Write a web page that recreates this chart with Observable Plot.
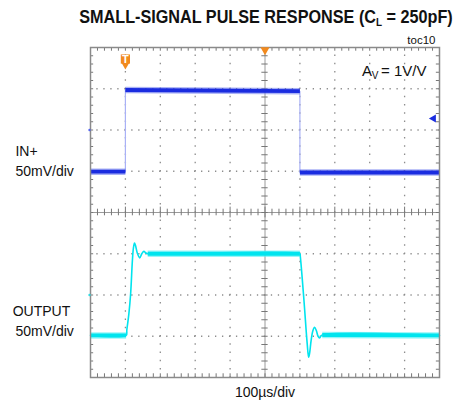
<!DOCTYPE html>
<html><head><meta charset="utf-8">
<script src="https://cdn.jsdelivr.net/npm/d3@7"></script>
<script src="https://cdn.jsdelivr.net/npm/@observablehq/plot@0.6"></script>
<style>
body{margin:0;background:#fff;}
#wrap{width:461px;position:relative;}
#title{height:30px;position:relative;white-space:nowrap;}
#title span{position:absolute;left:266px;top:7px;transform:translateX(-50%) scaleX(0.9);transform-origin:center;
  font-family:"Liberation Sans",Arial,sans-serif;font-weight:bold;font-size:18px;line-height:20px;color:#111;}
#title sub{font-size:11px;vertical-align:-3px;line-height:0;}
</style></head>
<body><div id="wrap"><div id="title"><span>SMALL-SIGNAL PULSE RESPONSE (C<sub>L</sub> = 250pF)</span></div><div id="chart"></div></div>
<script>
// time axis: µs (100µs/div, 10 div); vertical: scope divisions (50mV/div), 0 = screen centre
const xDivs = [0, 100, 200, 300, 400, 500, 600, 700, 800, 900, 1000];
const yDivs = [-4, -3, -2, -1, 0, 1, 2, 3, 4];

// Channel 1: IN+
const inTime  = [0, 100, 100, 600, 600, 1000];
const inLevel = [0.99, 0.99, 2.97, 2.94, 0.97, 0.97];

// Channel 2: OUTPUT
const outTime  = [0, 102, 104, 110, 115, 120, 123, 126, 129, 134, 141, 147, 153, 158, 164,
                  600, 601, 611, 621, 625, 628, 632, 637, 642, 647, 652, 656, 664, 1000];
const outLevel = [-2.98, -2.98, -2.85, -2.45, -1.97, -1.17, -0.86, -0.74, -0.8, -0.98, -1.10, -1.0, -0.94, -0.98, -1.0,
                  -1.0, -1.05, -2.06, -3.19, -3.51, -3.4, -3.11, -2.87, -2.78, -2.86, -3.0, -3.04, -2.97, -2.98];
const outBand  = [1, 1, 0, 0, 0, 0, 0, 0, 0, 0, 0, 0, 0, 0, 1,
                  1, 0, 0, 0, 0, 0, 0, 0, 0, 0, 0, 0, 1, 1];

const inPts = inTime.map((t, i) => ({t, v: inLevel[i]}));
const outPts = outTime.map((t, i) => ({t, v: outLevel[i], band: outBand[i]}));
const inSegs = inPts.slice(1).map((p, i) => ({a: inPts[i], b: p})).filter(s => s.a.t !== s.b.t);
const outSegs = outPts.slice(1).map((p, i) => ({a: outPts[i], b: p})).filter(s => s.a.band && s.b.band);

const minorX = d3.range(0, 1000.1, 20);
const minorY = d3.range(-4, 4.01, 0.2);
const inner = v => v > -4 && v < 4 && v !== 0;

const orange = "#f28a1e", blue = "#1a2ce0", cyan = "#00e4ee", grid = "#8d8d8d";
const seg = {x1: s => s.a.t, y1: s => s.a.v, x2: s => s.b.t, y2: s => s.b.v};

const chart = Plot.plot({
  width: 461, height: 374,
  marginLeft: 90, marginRight: 22, marginTop: 17, marginBottom: 27,
  x: {domain: [0, 1000], axis: null},
  y: {domain: [-4, 4], axis: null},
  style: {fontFamily: "'Liberation Sans', Arial, sans-serif", background: "white", overflow: "visible"},
  marks: [
    // dotted graticule
    Plot.ruleX(xDivs.filter(d => d > 0 && d < 1000 && d !== 500), {stroke: grid, strokeWidth: 1.3, strokeDasharray: "1.3 6.95", strokeDashoffset: 0.65}),
    Plot.ruleY(yDivs.filter(inner), {stroke: grid, strokeWidth: 1.3, strokeDasharray: "1.3 5.68", strokeDashoffset: 0.65}),
    // centre axes with minor ticks
    Plot.ruleX([500], {stroke: "#9a9a9a", strokeWidth: 1}),
    Plot.ruleY([0], {stroke: "#9a9a9a", strokeWidth: 1}),
    Plot.ruleX(minorX, {x: d => d, y1: d => d % 100 === 0 ? -0.13 : -0.08, y2: d => d % 100 === 0 ? 0.13 : 0.08, stroke: "#777"}),
    Plot.ruleY(minorY, {y: d => d, x1: 491, x2: 509, stroke: "#777"}),
    // ticks along the frame
    Plot.ruleX(minorX, {x: d => d, y1: 4, y2: 3.91, stroke: "#777"}),
    Plot.ruleX(minorX, {x: d => d, y1: -4, y2: -3.91, stroke: "#777"}),
    Plot.ruleY(minorY, {y: d => d, x1: 0, x2: 9, stroke: "#777"}),
    Plot.ruleY(minorY, {y: d => d, x1: 991, x2: 1000, stroke: "#777"}),
    // IN+ trace
    Plot.line(inPts, {x: "t", y: "v", stroke: "#a9b1f6", strokeWidth: 1.2}),
    Plot.link(inSegs, {...seg, stroke: "#5566ee", strokeOpacity: 0.5, strokeWidth: 6.5}),
    Plot.link(inSegs, {...seg, stroke: blue, strokeWidth: 3.8}),
    // OUTPUT trace
    Plot.line(outPts, {x: "t", y: "v", curve: "catmull-rom", stroke: cyan, strokeWidth: 1.6}),
    Plot.link(outSegs, {...seg, stroke: "#55eef4", strokeOpacity: 0.6, strokeWidth: 6.5}),
    Plot.link(outSegs, {...seg, stroke: cyan, strokeWidth: 3.8}),
    Plot.frame({stroke: "#8a8a8a", strokeWidth: 1.5}),
    // scope markers
    Plot.dot([{t: 100, v: 3.72}], {x: "t", y: "v", symbol: "square", r: 5.2, fill: orange}),
    Plot.dot([{t: 100, v: 3.72}], {x: "t", y: "v", dy: 5.5, symbol: "triangle", rotate: 180, r: 3.2, fill: orange}),
    Plot.text([{t: 100, v: 3.72}], {x: "t", y: "v", text: () => "T", fill: "white", fontSize: 11, fontWeight: "bold", dy: 0.5}),
    Plot.dot([{t: 500, v: 4}], {x: "t", y: "v", dy: 2.5, symbol: "triangle", rotate: 180, r: 3.4, fill: orange}),
    Plot.dot([{t: 983, v: 2.28}], {x: "t", y: "v", symbol: "triangle", rotate: -90, r: 3, fill: blue}),
    Plot.dot([{t: 0, v: 2}], {x: "t", y: "v", dx: -1, r: 1.2, fill: "#5566ee"}),
    Plot.dot([{t: 0, v: -2}], {x: "t", y: "v", dx: -1, r: 1.2, fill: "#33d8e0"}),
    // annotations
    Plot.text([{t: 778, v: 3.42}], {x: "t", y: "v", text: () => "A", textAnchor: "start", fontSize: 15, fill: "#111"}),
    Plot.text([{t: 778, v: 3.42}], {x: "t", y: "v", text: () => "V", textAnchor: "start", dx: 9.8, dy: 4.5, fontSize: 10, fill: "#111"}),
    Plot.text([{t: 778, v: 3.42}], {x: "t", y: "v", text: () => "= 1V/V", textAnchor: "start", dx: 19, fontSize: 15, fill: "#111"}),
    Plot.text(["toc10"], {frameAnchor: "top-right", lineAnchor: "middle", text: d => d, dx: -4, dy: -7, fontSize: 11.5, fill: "#111"}),
    Plot.text(["100µs/div"], {frameAnchor: "bottom", lineAnchor: "middle", text: d => d, dy: 15, fontSize: 14, fill: "#111"}),
    Plot.text([{t: -215, v: 1.48, s: "IN+"}, {t: -215, v: 1.0, s: "50mV/div"},
               {t: -223, v: -2.4, s: "OUTPUT"}, {t: -215, v: -2.88, s: "50mV/div"}],
      {x: "t", y: "v", text: "s", textAnchor: "start", fontSize: 14, fill: "#111"})
  ]
});
document.getElementById("chart").appendChild(chart);
</script>
</body></html>
